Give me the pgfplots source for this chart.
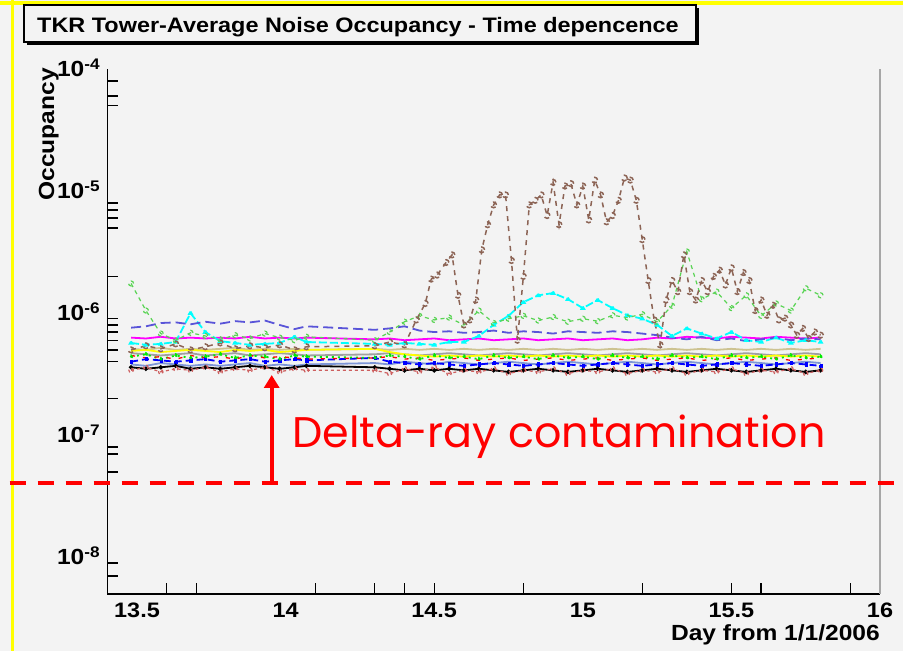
\documentclass[border=0pt]{standalone}
\usepackage{fontspec}
\setmainfont{Liberation Sans}[FakeStretch=1.12]
\newfontfamily\notefont{Poppins}
\usepackage{pgfplots}
\usepackage{pgfplotstable}
\pgfplotsset{compat=1.18}
\usetikzlibrary{arrows.meta}

\definecolor{bg}{RGB}{243,243,243}
\definecolor{slate}{RGB}{89,84,216}
\definecolor{spring}{RGB}{89,212,84}
\definecolor{sienna}{RGB}{140,100,85}
\definecolor{khaki}{RGB}{205,195,145}
\definecolor{midgray}{RGB}{160,160,160}
\definecolor{steel}{RGB}{125,150,215}
\definecolor{rosy}{RGB}{205,95,95}
\definecolor{ylw}{RGB}{255,255,0}
\definecolor{grn}{RGB}{0,235,0}
\definecolor{cyn}{RGB}{0,255,255}
\definecolor{mgt}{RGB}{255,0,255}
\definecolor{blu}{RGB}{0,0,255}
\definecolor{rd}{RGB}{255,0,0}

% tower-averaged occupancy, in units of 1e-7
\pgfplotstableread{
x     sb   mg   lg    cy   tn   gy   ye   gr   bl   ls   bk   rs   rd
13.48 7.6  6.3  17.5  5.7  5.1  4.7  4.9  4.4  4.0  3.8  3.6  3.4  4.5
13.53 7.8  6.2  10.5  5.5  5.0  4.6  5.0  4.6  4.2  3.7  3.5  3.6  4.3
13.58 8.3  6.4  6.8   5.6  5.2  4.5  4.8  4.2  4.1  3.9  3.6  3.3  4.4
13.63 8.4  6.2  6.0   5.8  5.0  4.6  4.9  4.5  4.0  3.8  3.7  3.5  4.2
13.68 8.1  6.3  6.9   10.0 5.1  4.7  5.0  4.3  4.1  3.7  3.5  3.4  4.5
13.73 8.5  6.2  6.5   7.0  5.0  4.5  4.9  4.4  4.2  3.8  3.6  3.6  4.3
13.78 8.2  6.3  6.1   5.9  5.1  4.6  4.8  4.6  4.0  3.7  3.5  3.3  4.4
13.83 8.6  6.2  6.6   5.7  5.2  4.7  5.0  4.3  4.1  3.8  3.6  3.5  4.2
13.88 8.4  6.4  6.2   5.5  5.0  4.5  4.9  4.5  4.2  3.9  3.7  3.4  4.5
13.93 8.7  6.2  6.8   5.6  5.1  4.6  5.0  4.4  4.0  3.7  3.6  3.6  4.3
13.98 8.0  6.3  6.3   5.7  5.0  4.7  4.8  4.2  4.1  3.8  3.5  3.3  4.4
14.03 7.4  6.2  6.0   6.4  5.1  4.6  4.9  4.5  4.2  3.7  3.6  3.5  4.3
14.07 7.8  6.3  6.4   5.8  5.0  4.5  5.0  4.4  4.1  3.8  3.7  3.4  4.2
14.30 7.3  6.1  6.0   5.6  5.1  4.6  5.1  4.3  4.3  3.9  3.6  3.4  4.3
14.35 7.5  6.2  7.0   5.5  5.0  4.7  4.8  4.5  4.0  3.8  3.5  3.2  4.4
14.40 7.8  6.0  8.5   5.7  5.1  4.6  4.6  4.4  3.9  4.0  3.4  3.5  4.2
14.45 7.2  6.1  9.5   5.6  5.0  4.5  4.5  4.2  3.8  3.9  3.5  3.3  4.3
14.50 7.0  6.2  8.8   5.5  5.1  4.6  4.4  4.5  3.9  3.8  3.4  3.6  4.1
14.55 7.1  6.0  9.2   5.8  5.0  4.7  4.5  4.3  3.8  4.0  3.5  3.2  4.2
14.60 6.9  6.1  8.0   5.8  5.1  4.6  4.4  4.4  3.7  3.9  3.4  3.4  4.3
14.65 7.0  6.2  10.5  6.5  5.0  4.5  4.5  4.2  3.8  3.8  3.5  3.3  4.1
14.70 7.2  6.0  8.3   8.0  5.1  4.6  4.4  4.5  3.9  3.9  3.4  3.5  4.2
14.75 6.9  6.1  9.0   9.5  5.0  4.7  4.5  4.3  3.8  4.0  3.3  3.2  4.3
14.80 7.1  6.2  9.5   12.3 5.1  4.6  4.4  4.4  3.7  3.9  3.4  3.4  4.1
14.85 7.0  6.0  8.7   14.0 5.0  4.5  4.5  4.2  3.8  3.8  3.5  3.3  4.2
14.90 6.8  6.1  9.3   14.6 5.1  4.6  4.4  4.5  3.9  3.9  3.4  3.5  4.3
14.95 7.1  6.2  8.5   13.0 5.0  4.7  4.5  4.3  3.8  4.0  3.3  3.2  4.1
15.00 7.0  6.0  9.0   11.0 5.1  4.6  4.4  4.4  3.7  3.9  3.4  3.4  4.2
15.05 6.9  6.1  8.6   12.8 5.0  4.5  4.5  4.2  3.8  3.8  3.5  3.3  4.3
15.10 7.1  6.2  9.6   11.0 5.1  4.6  4.4  4.5  3.9  3.9  3.4  3.5  4.1
15.15 7.0  6.0  9.2   9.6  5.0  4.7  4.5  4.3  3.8  4.0  3.3  3.2  4.2
15.20 6.8  6.1  9.8   9.0  5.1  4.6  4.4  4.4  3.7  3.9  3.4  3.4  4.3
15.25 6.6  6.3  8.5   8.0  5.0  4.5  4.5  4.2  3.8  3.8  3.5  3.3  4.1
15.30 6.3  6.2  11.5  6.5  5.1  4.6  4.4  4.5  3.9  3.9  3.4  3.5  4.2
15.35 6.1  6.4  32.0  7.5  5.0  4.7  4.5  4.3  3.8  4.0  3.3  3.2  4.3
15.40 6.4  6.3  13.0  6.8  5.1  4.6  4.4  4.4  3.7  3.9  3.4  3.4  4.1
15.45 6.0  6.2  15.0  6.2  5.0  4.5  4.5  4.2  3.8  3.8  3.5  3.3  4.2
15.50 6.2  6.4  11.0  7.0  5.1  4.6  4.4  4.5  3.9  3.9  3.4  3.5  4.3
15.55 5.9  6.3  14.0  6.0  5.0  4.7  4.5  4.3  3.8  4.0  3.3  3.2  4.1
15.60 6.1  6.2  9.5   5.8  5.1  4.6  4.4  4.4  3.7  3.9  3.4  3.4  4.2
15.65 6.3  6.4  12.0  6.3  5.0  4.5  4.5  4.2  3.8  3.8  3.5  3.3  4.3
15.70 6.0  6.3  10.5  5.7  5.1  4.6  4.4  4.5  3.9  3.9  3.4  3.5  4.1
15.75 6.2  6.2  16.0  6.0  5.0  4.7  4.5  4.3  3.8  4.0  3.3  3.2  4.2
15.80 6.1  6.3  14.0  5.8  5.1  4.6  4.4  4.4  3.7  3.9  3.4  3.4  4.3
}\towers

% the noisy tower, in units of 1e-7
\pgfplotstableread{
x     v
13.48 5.0
13.53 5.4
13.58 5.1
13.63 5.6
13.68 5.0
13.73 5.3
13.78 5.7
13.83 5.1
13.88 5.4
13.93 5.2
13.98 5.5
14.03 5.0
14.07 5.3
14.30 5.4
14.35 5.8
14.40 5.5
14.44 8.8
14.47 12
14.49 19
14.51 20.5
14.54 26
14.56 30
14.58 14
14.60 8
14.62 8.8
14.64 12.8
14.66 33
14.68 53
14.70 77
14.72 93
14.74 93
14.76 27
14.78 6
14.80 20
14.82 77
14.84 84
14.86 93
14.88 63
14.90 118
14.92 53
14.94 110
14.96 115
14.98 77
15.00 110
15.02 58
15.04 123
15.06 93
15.08 56
15.10 63
15.12 84
15.14 128
15.16 123
15.18 84
15.20 40
15.22 18.5
15.24 8.8
15.26 5.5
15.28 12.8
15.30 18.5
15.32 15
15.34 30
15.36 15
15.38 12.8
15.40 18.5
15.42 15
15.44 20
15.46 22.5
15.48 17
15.50 23.5
15.52 15
15.54 21.5
15.56 18.5
15.58 10.5
15.60 12.8
15.62 9.6
15.64 11.6
15.66 8.8
15.68 9.1
15.70 8
15.72 6.6
15.74 7.5
15.76 6.2
15.78 7
15.80 6.6
}\hot

\begin{document}
\begin{tikzpicture}[x=1bp,y=1bp]
\useasboundingbox (0,0) rectangle (903bp,651bp);
\fill[bg] (0,0) rectangle (903bp,651bp);
\fill[ylw] (0,646bp) rectangle (903bp,649.5bp);
\fill[ylw] (11bp,0) rectangle (13.5bp,651bp);

% title pave with shadow
\fill[black] (27bp,606bp) rectangle (699bp,643bp);
\filldraw[fill=bg, draw=black, line width=1.2bp] (24bp,609bp) rectangle (696bp,646bp);
\node[anchor=base, inner sep=0pt, font=\fontsize{21}{21}\selectfont\bfseries] at (358bp,618bp)
  {TKR Tower-Average Noise Occupancy - Time depencence};

\begin{axis}[
  at={(107.3bp,57bp)}, anchor=south west,
  scale only axis, width=772.7bp, height=525bp,
  xmin=13.4, xmax=16, ymin=5e-9, ymax=1e-4, ymode=log,
  axis x line*=bottom, axis y line*=left,
  axis line style={line width=1.5bp, black, -},
  tick align=inside,
  xtick={13.5,14,14.5,15,15.5,16},
  xticklabels={13.5,14,14.5,15,15.5,16},
  minor xtick={13.6,13.7,14.1,14.3,14.4,14.5,14.8,15.2,15.5,15.6,15.9},
  ytick={1e-8,1e-7,1e-6,1e-5,1e-4},
  yticklabels={10\textsuperscript{-8},10\textsuperscript{-7},10\textsuperscript{-6},10\textsuperscript{-5},10\textsuperscript{-4}},
  minor ytick={7e-9,9e-9,5e-8,7e-8,8e-8,2e-7,4e-7,5e-7,6e-7,7e-7,8e-7,9e-7,2e-6,5e-6,6e-6,7e-6,8e-6,5e-5,6e-5,8e-5},
  major tick length=0bp,
  minor tick length=11bp,
  tick style={line width=1.4bp, black},
  xticklabel style={font=\fontsize{21}{21}\selectfont\bfseries, anchor=base, inner sep=0pt, yshift=-23bp},
  yticklabel style={font=\fontsize{22}{22}\selectfont\bfseries, anchor=base east, inner sep=0pt, xshift=-7bp, yshift=-7.5bp},
  every axis plot/.append style={line width=1.8bp},
  every mark/.append style={solid},
  clip=true,
]
\addplot[midgray, mark=none] table[x=x, y expr=\thisrow{gy}*1e-7] {\towers};
\addplot[khaki, mark=none] table[x=x, y expr=\thisrow{tn}*1e-7] {\towers};
\addplot[steel, mark=none] table[x=x, y expr=\thisrow{ls}*1e-7] {\towers};
\addplot[ylw, mark=none] table[x=x, y expr=\thisrow{ye}*1e-7] {\towers};
\addplot[blu, dash pattern=on 7bp off 4bp, mark=square*, mark size=1.2bp] table[x=x, y expr=\thisrow{bl}*1e-7] {\towers};
\addplot[grn, dash pattern=on 2bp off 4bp, mark=*, mark size=1.3bp] table[x=x, y expr=\thisrow{gr}*1e-7] {\towers};
\addplot[black, mark=*, mark size=1.2bp] table[x=x, y expr=\thisrow{bk}*1e-7] {\towers};
\addplot[rd, line width=1.3bp, dash pattern=on 4bp off 8bp, mark=none] table[x=x, y expr=\thisrow{rd}*1e-7] {\towers};
\addplot[rosy, line width=1.2bp, dash pattern=on 3bp off 3bp, mark=o, mark size=2.2bp] table[x=x, y expr=\thisrow{rs}*1e-7] {\towers};
\addplot[mgt, mark=none] table[x=x, y expr=\thisrow{mg}*1e-7] {\towers};
\addplot[cyn, dash pattern=on 8bp off 3bp, mark=triangle*, mark size=1.6bp] table[x=x, y expr=\thisrow{cy}*1e-7] {\towers};
\addplot[slate, dash pattern=on 10bp off 5bp, mark=none] table[x=x, y expr=\thisrow{sb}*1e-7] {\towers};
\addplot[spring, line width=1.2bp, dash pattern=on 4bp off 4bp, mark=o, mark size=2.5bp] table[x=x, y expr=\thisrow{lg}*1e-7] {\towers};
\addplot[sienna, line width=1.5bp, dash pattern=on 5bp off 5bp, mark=o, mark size=2.8bp] table[x=x, y expr=\thisrow{v}*1e-7] {\hot};
\end{axis}

% right edge of the frame
\draw[black!35, line width=1.4bp] (880bp,57bp) -- (880bp,582bp);

% axis titles
\node[rotate=90, anchor=base east, inner sep=0pt, font=\fontsize{22}{22}\selectfont\bfseries] at (54bp,583bp) {Occupancy};
\node[anchor=base east, inner sep=0pt, font=\fontsize{22}{22}\selectfont\bfseries] at (880bp,11bp) {Day from 1/1/2006};

% delta-ray annotation
\draw[rd, line width=3.8bp, dash pattern=on 16bp off 12bp] (9.5bp,168bp) -- (903bp,168bp);
\draw[rd, line width=4bp, -{Triangle[width=15bp,length=13bp]}] (271.7bp,168bp) -- (271.7bp,276bp);
\node[anchor=base west, inner sep=0pt, text=rd, font=\notefont\fontsize{43}{43}\selectfont] at (292bp,203bp) {Delta-ray contamination};
\end{tikzpicture}
\end{document}
